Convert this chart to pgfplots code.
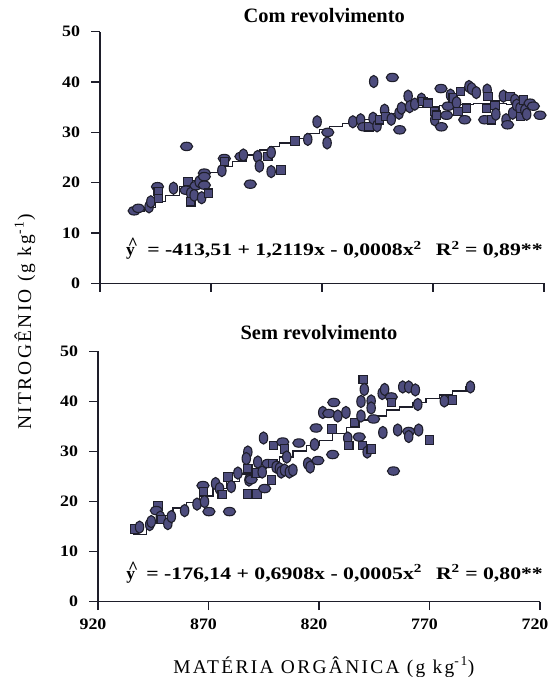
\documentclass[border=0pt]{standalone}
\usepackage{fontspec}
\setmainfont{Liberation Serif}
\newfontfamily\labfont[LetterSpace=12]{Liberation Serif}
\newfontfamily\eqfont[FakeStretch=1.24]{Liberation Serif}
\newfontfamily\tickfont[FakeStretch=1.12]{Liberation Serif}
\usepackage{pgfplots}
\usepackage{pgfplotstable}
\pgfplotsset{compat=1.18}
\definecolor{ptfill}{HTML}{4D4C7D}
\definecolor{ptline}{HTML}{1E1E2A}

% marks: flat ellipse, tall ellipse, rounded square
\pgfdeclareplotmark{hell}{\pgfpathellipse{\pgfpointorigin}{\pgfqpoint{1.45\pgfplotmarksize}{0pt}}{\pgfqpoint{0pt}{\pgfplotmarksize}}\pgfusepathqfillstroke}
\pgfdeclareplotmark{vell}{\pgfpathellipse{\pgfpointorigin}{\pgfqpoint{\pgfplotmarksize}{0pt}}{\pgfqpoint{0pt}{1.45\pgfplotmarksize}}\pgfusepathqfillstroke}
\pgfdeclareplotmark{rsq}{\pgfsetcornersarced{\pgfqpoint{1.4pt}{1.4pt}}\pgfpathrectanglecorners{\pgfqpoint{-\pgfplotmarksize}{-\pgfplotmarksize}}{\pgfqpoint{\pgfplotmarksize}{\pgfplotmarksize}}\pgfusepathqfillstroke}

\pgfplotstableread{
x y c
904.6 14.4 h
902.7 14.9 h
897.9 15.2 v
897.1 16.2 v
894.1 19.2 h
893.8 18.2 s
893.7 16.9 s
886.9 18.9 v
881.0 27.2 h
880.3 20.2 s
881.3 18.5 h
879.1 17.9 v
879.1 16.2 s
877.6 17.5 v
876.8 19.4 h
875.3 20.2 v
874.2 17.0 v
873.0 19.5 h
871.2 17.9 s
873.0 21.9 h
873.0 21.2 h
865.1 22.4 v
864.0 24.8 h
864.0 24.2 s
856.5 25.2 h
855.4 25.5 v
852.3 19.7 h
849.0 25.2 v
848.2 23.3 v
844.4 25.2 s
842.9 26.0 v
842.9 22.2 v
838.4 22.5 s
832.1 28.3 s
826.4 28.6 v
822.2 32.1 v
817.4 30.0 h
817.7 27.9 v
806.1 32.1 v
802.6 32.5 v
801.3 31.1 h
798.8 31.1 s
797.0 32.8 v
795.2 31.3 v
794.0 32.5 s
791.8 34.4 v
791.3 33.1 s
788.8 32.6 v
796.7 40.1 v
788.3 40.9 h
785.3 33.8 v
785.0 30.5 h
784.2 34.8 v
781.2 37.2 v
780.5 35.1 v
778.2 35.6 v
775.2 36.6 v
774.5 36.1 s
772.2 35.8 s
769.2 34.1 s
769.2 32.5 v
768.4 33.4 s
766.4 38.7 h
766.2 31.1 h
763.9 33.4 h
763.2 35.2 h
762.1 37.4 v
760.9 36.8 s
759.4 35.9 v
758.7 34.1 s
757.6 38.1 s
755.7 32.5 h
755.0 34.8 s
753.8 39.1 v
752.6 38.7 v
750.5 37.9 v
746.7 32.5 h
746.0 34.8 s
745.6 38.4 v
745.2 37.1 s
743.6 32.5 s
742.1 35.4 s
741.7 33.6 v
738.3 37.2 v
737.1 32.5 v
736.4 31.5 h
735.3 37.1 s
734.1 33.8 v
733.1 36.4 v
732.3 35.4 v
730.8 34.8 v
730.5 33.1 s
729.3 36.4 s
728.6 34.4 v
727.8 33.6 v
726.3 35.8 h
724.8 35.2 h
721.8 33.4 h
}\comrev

\pgfplotstableread{
x y c
903.4 14.5 s
901.2 14.9 v
896.6 15.4 v
895.9 16.0 v
892.9 19.1 s
893.6 18.2 h
891.8 16.9 v
891.4 16.4 s
888.4 15.6 v
886.8 17.0 v
880.8 18.2 v
875.2 19.5 v
872.5 23.2 h
871.8 20.0 v
872.2 22.0 s
869.8 18.0 h
866.8 23.6 v
865.0 22.6 v
863.8 21.4 s
860.5 18.0 h
861.2 24.9 s
859.7 23.0 v
856.7 25.7 v
852.2 29.9 v
852.9 28.6 v
852.2 26.6 s
851.7 24.3 v
850.7 24.4 h
852.2 21.5 s
848.4 25.7 s
848.1 21.5 s
847.7 27.9 v
845.7 25.9 v
845.1 32.7 v
844.6 22.6 h
843.1 27.6 h
840.9 27.6 s
839.4 26.9 v
837.9 26.6 v
837.1 25.9 v
835.6 26.3 v
841.6 24.3 s
840.6 31.2 s
836.4 31.9 h
835.6 30.5 s
834.6 28.9 v
833.4 25.9 v
831.8 26.3 v
829.1 31.7 h
825.1 27.6 v
824.0 26.9 v
822.0 31.4 v
821.3 34.7 h
820.5 28.2 h
818.3 37.8 v
815.6 37.6 h
814.1 34.5 s
813.8 29.4 h
813.3 39.8 h
811.5 37.1 v
807.8 37.8 v
807.0 32.7 v
806.5 31.2 s
804.0 35.8 s
801.8 32.9 h
801.0 40.0 v
801.0 37.1 v
800.0 44.4 s
799.5 42.4 v
800.3 31.2 s
798.2 29.9 v
796.4 30.5 s
796.4 40.1 v
796.4 38.7 v
795.3 36.5 h
791.1 33.8 v
791.4 41.6 v
790.3 42.4 v
787.3 40.9 h
787.3 39.8 s
786.3 26.1 h
784.4 34.3 v
782.1 42.9 v
779.4 42.9 v
776.4 42.3 v
779.4 34.0 h
779.4 33.0 v
775.3 39.4 v
774.9 34.3 v
770.1 32.3 s
763.3 40.1 v
759.5 40.3 s
751.5 42.9 v
}\semrev

\pgfplotsset{
  painel/.style={
    scale only axis,
    x dir=reverse,
    xmin=720, xmax=920, ymin=0, ymax=50,
    axis x line*=bottom, axis y line*=left,
    axis line style={-, ptline, line width=1.1bp},
    tick style={ptline, line width=1.1bp},
    tick align=outside,
    major tick length=8.5bp,
    xtick={720,770,820,870,920},
    ytick={0,10,20,30,40,50},
    /pgf/number format/assume math mode=true,
    tick label style={font=\tickfont\bfseries\fontsize{16}{16}\selectfont},
    xticklabel style={yshift=-5bp, xshift=-5bp},
    yticklabel style={xshift=-8bp},
    title style={font=\bfseries\fontsize{20.5}{22}\selectfont, anchor=base},
    clip=false,
  },
  pontos/.style={
    scatter, only marks, scatter src=explicit symbolic, mark size=4.2bp,
    scatter/classes={
      h={mark=hell, fill=ptfill, draw=ptline, line width=1.1bp},
      v={mark=vell, fill=ptfill, draw=ptline, line width=1.1bp},
      s={mark=rsq, fill=ptfill, draw=ptline, line width=1.1bp}},
  },
  ajuste/.style={const plot, ptline, line width=1.2bp, mark=none},
}

\newcommand{\yhat}{\bfseries\rlap{\hspace{0.1em}\raisebox{0.33em}{\textasciicircum}}y}

\begin{document}
\begin{tikzpicture}
\path[use as bounding box] (-100bp,-393.7bp) rectangle (452bp,283.3bp);

\begin{axis}[painel,
  at={(0,0)}, anchor=south west,
  width=444bp, height=251.6bp,
  xticklabels={},
  title={Com revolvimento},
  title style={at={(0.505,1)}, yshift=3.4bp},
  ylabel={\labfont\fontsize{19.5}{20}\selectfont NITROGÊNIO (g kg\textsuperscript{-1})},
  ylabel style={at={(axis description cs:-0.169,-0.154)}, anchor=center, rotate=0},
]
\addplot[pontos] table[x=x, y=y, meta=c] {\comrev};
\addplot[ajuste] coordinates {
(905.4,14.2)(900.1,15.1)(894.9,16.2)(890.4,17.5)(884.3,19.2)(878.3,20.5)
(872.3,22.0)(866.3,23.2)(860.2,24.2)(854.2,25.5)(848.2,26.5)(843.7,27.2)
(839.2,27.9)(833.2,28.8)(827.1,29.7)(821.1,30.5)(816.6,31.1)(810.6,31.8)
(804.6,32.5)(798.5,33.1)(792.5,33.8)(786.5,34.3)(780.5,35.0)(774.5,35.2)
(766.9,35.4)(759.4,35.6)(751.9,35.8)(744.4,35.8)(736.8,35.6)(729.3,35.5)
(723.3,35.4)};
\node[anchor=base west, inner sep=0pt, font=\fontsize{17.6}{18}\selectfont] at (axis cs:908.3,5.56) {\yhat};
\node[anchor=base east, inner sep=0pt, font=\eqfont\bfseries\fontsize{17.6}{18}\selectfont] at (axis cs:720.5,5.56)
  {= -413,51 + 1,2119x - 0,0008x\textsuperscript{2}\hspace{0.8em}R\textsuperscript{2} = 0,89**};
\end{axis}

\begin{axis}[painel,
  at={(-2bp,-318.4bp)}, anchor=south west,
  width=442bp, height=250.3bp,
  title={Sem revolvimento},
  title style={at={(0.5,1)}, yshift=5.5bp},
  xlabel={\labfont\fontsize{19.5}{20}\selectfont MATÉRIA ORGÂNICA (g kg\textsuperscript{-1})},
  xlabel style={at={(axis description cs:0.511,0)}, anchor=base, yshift=-71.6bp},
]
\addplot[pontos] table[x=x, y=y, meta=c] {\semrev};
\addplot[ajuste] coordinates {
(904.2,13.4)(898.1,15.7)(892.1,17.3)(886.1,18.7)(880.1,19.8)(874.0,21.1)
(868.0,22.6)(862.0,24.0)(856.0,25.5)(849.9,26.6)(843.9,27.9)(837.9,28.9)
(831.8,30.1)(825.8,31.2)(819.8,32.2)(813.8,33.6)(807.7,34.8)(801.7,36.3)
(795.7,37.1)(789.6,38.3)(783.6,38.9)(777.6,39.8)(771.6,40.6)(765.5,41.3)
(759.5,42.1)(753.5,42.9)(751.2,42.9)};
\node[anchor=base west, inner sep=0pt, font=\fontsize{17.6}{18}\selectfont] at (axis cs:907.3,4.53) {\yhat};
\node[anchor=base east, inner sep=0pt, font=\eqfont\bfseries\fontsize{17.6}{18}\selectfont] at (axis cs:718.6,4.53)
  {= -176,14 + 0,6908x - 0,0005x\textsuperscript{2}\hspace{0.8em}R\textsuperscript{2} = 0,80**};
\end{axis}
\end{tikzpicture}
\end{document}
